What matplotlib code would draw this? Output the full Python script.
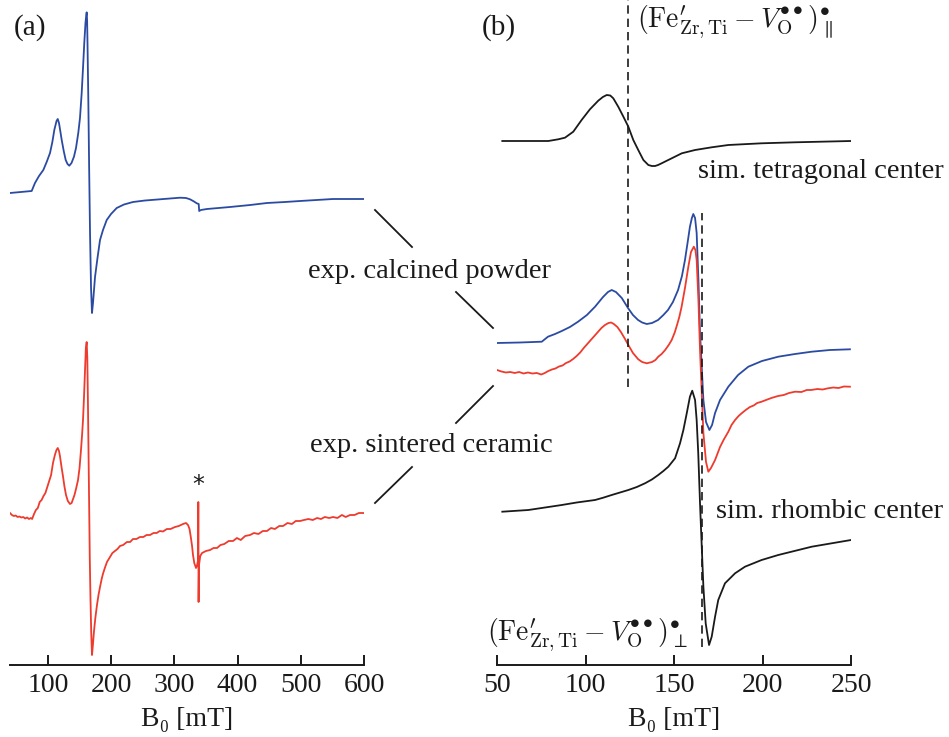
import matplotlib
matplotlib.use("Agg")
import matplotlib.pyplot as plt
from matplotlib.lines import Line2D

plt.rcParams['font.family'] = ['Liberation Serif', 'DejaVu Serif']
plt.rcParams['mathtext.fontset'] = 'cm'

BLUE = '#2b4ba3'
RED = '#ee3b2e'
BLACK = '#1a1a1a'

# (a) calcined powder, full sweep
calc_a_B = [40, 74.3, 79.5, 85.9, 92.7, 98, 103.3, 107, 110.1, 113.6,
            115.5, 117.5, 119.8, 121.8, 125, 128.1, 131, 133.8, 137.3, 141.2,
            144.4, 148, 150.7, 153.4, 155.5, 157.5, 159.4, 160.5, 161.3, 162,
            162.6, 163.9, 165.2, 166.6, 168.2, 169.7, 171.3, 174.5, 178.4, 182.4,
            187.1, 193, 199.8, 208.8, 220.3, 234.6, 253.6, 277.3, 309, 318.4,
            324.8, 331.1, 335.4, 338.5, 339.3, 342, 351.6, 370, 388, 420,
            446.5, 475, 498.8, 525, 551, 575, 600]
calc_a_I = [0, 2, 10, 17, 23, 31, 40, 51, 63, 72,
            74, 70, 61, 53, 42, 33, 29, 27.3, 30, 36.3,
            45, 60, 75, 100, 125, 150, 170, 177, 180.7, 172,
            150, 93, 25, -40, -95, -120, -110, -84, -65, -47,
            -37, -27, -21, -15, -11.5, -9, -7.5, -6.3, -4.7, -5,
            -6.3, -8.5, -10.3, -11, -18, -17, -16, -15, -14, -12,
            -10, -9, -8, -7, -6, -6, -6]
calc_a_offset = 470

# (a) sintered ceramic, full sweep (noisy trace)
sint_a_B = [40, 43, 46, 49, 52, 55, 58, 61, 64, 67,
            70, 73, 75, 78, 81, 84, 87, 90, 93, 96,
            99, 102, 105, 108, 111, 113.5, 115.5, 117.5, 119, 121.5,
            124, 126, 128.6, 131.5, 134.9, 137.5, 139.7, 142, 144.4, 147.6,
            150, 152.3, 154, 155.5, 157, 158.6, 160, 161.3, 162.3, 163.3,
            164.2, 165, 166.2, 167.3, 168.5, 169.7, 171, 172.9, 175, 177.6,
            180, 182.4, 185, 187, 190, 193.4, 198.2, 202, 206, 210,
            214, 219, 225, 230, 234.6, 240, 245.6, 251, 256, 261.5,
            267, 272, 277, 282, 288.2, 294, 301, 307, 313.7, 318.4,
            321.6, 324, 326, 328, 329.5, 331.5, 334.3, 336, 337.2, 337.6,
            337.9, 338.3, 339, 341, 343.8, 350, 356.5, 362, 367.5, 373,
            379, 386, 392.8, 399, 405, 412, 419.7, 426, 433, 440,
            446.5, 453, 459, 466, 472, 479, 486, 492, 498.8, 505,
            512, 519, 525.7, 532, 538, 545, 551, 558, 565, 571,
            578, 585, 592, 600]
sint_a_I = [0, -2, -3, -2.5, -4, -3.5, -4.5, -4, -5.5, -4.5,
            -6, -5, -6, -1, 3, 5, 11, 13, 17, 20,
            26, 32, 38, 50, 58, 63, 65, 62, 57, 46,
            36, 27, 18, 12, 9, 10, 14, 18, 24, 33,
            45, 63, 78, 93, 115, 143, 165, 171, 155, 110,
            60, 10, -45, -85, -120, -142, -133, -118, -105, -92,
            -82, -74, -66, -61, -55, -49, -44, -40, -38, -36,
            -33, -32, -29, -29, -26, -26, -24, -24, -22, -22,
            -20, -20, -18, -18.5, -16, -16, -14, -13, -11, -10,
            -12, -16, -24, -33, -42, -50, -55, -52, -48, -45,
            11, -89, -52, -43, -40, -38, -37, -35, -35, -32,
            -31, -28, -28, -25, -27, -23, -22, -20, -21, -18,
            -18, -15, -16, -13, -13, -10, -11, -8, -8, -7,
            -6, -7, -5, -6, -4, -5, -4, -5, -2, -4,
            -2, -2, 0, 0]
sint_a_offset = 150

# (b) calcined powder, zoomed
calc_b_B = [50, 63, 75.3, 78.8, 82.8, 86.6, 91.2, 95.8, 100.8, 105.4,
            109.9, 112.7, 114.8, 117.2, 120.5, 124, 126.8, 129.7, 132, 134.6,
            137.6, 141, 144, 146.6, 149.4, 152.3, 154.5, 156.2, 157.9, 159,
            160.1, 160.9, 161.9, 162.8, 163.8, 164.7, 165.7, 166.6, 168.1, 170,
            171.5, 173.2, 176, 180.7, 186.2, 192, 199.7, 208.9, 218.4, 227.8,
            238.1, 249.4]
calc_b_I = [0, 0.5, 1.3, 6.3, 9, 12, 16, 21.3, 28, 36.3,
            46, 51, 53, 51, 45, 35, 28, 23, 20.5, 19,
            20, 23, 28, 33, 41, 53, 67, 83, 103, 116.3,
            125, 129, 125, 110, 63, 10, -25, -57, -79, -87,
            -82, -70, -57, -43.7, -32, -23.7, -18, -13.7, -11, -8.7,
            -7, -6.3]
calc_b_offset = 320

# (b) sintered ceramic, zoomed
sint_b_B = [50, 52.5, 55, 57.5, 60, 62.5, 65, 67.5, 70, 72.5,
            75, 77, 79, 81, 83, 85, 87, 89, 91, 93,
            95, 97, 99, 101, 103, 105, 107, 109, 111, 113,
            114.5, 116, 118, 120, 122, 124.2, 126.8, 129.8, 132, 134.6,
            137.6, 139.5, 141.1, 143, 145, 147, 148.7, 150.5, 151.7, 153,
            154.3, 156.2, 158.1, 159.6, 161.2, 162.1, 162.8, 163.8, 164.7, 166.6,
            168.1, 169.4, 170.9, 173.2, 176, 178, 180.7, 182.5, 184.5, 186.5,
            188.2, 190.5, 192.9, 195, 197, 199.5, 202, 205, 208.8, 212,
            215, 218.4, 222, 225, 227.4, 231, 234, 237, 240, 243,
            246, 249.4]
sint_b_I = [2, 0.5, -0.5, 0, -1, 0, -1.5, -0.5, -1.5, -1,
            -2.5, -1, 1, 2.5, 3.5, 5.5, 6.5, 9, 10.5, 13,
            16, 19.5, 24, 28, 32, 36, 40, 44, 47, 49,
            49.5, 48, 45, 40, 34, 27, 19, 12.7, 10, 8.7,
            10, 12, 15.3, 18, 22, 27, 32, 40, 47, 55,
            65.3, 84, 105.3, 120, 125.3, 122, 112, 72, 22, -61,
            -90, -99.7, -96, -88, -75, -68, -59.7, -53, -48, -44,
            -41.3, -38, -35, -33.5, -31, -29.7, -28, -26, -24, -23,
            -21, -19.7, -20, -18, -18, -17, -17.5, -16.3, -15.5, -16,
            -14.5, -14.7]
sint_b_offset = 291

# (b) simulated tetragonal centre
tetr_B = [53, 79, 84.6, 88.4, 93.1, 97.8, 102.5, 107.2, 109.8, 112,
          114, 115.7, 118.5, 121.4, 124.2, 127, 129.8, 132.7, 135.5, 137.5,
          139.3, 141, 143, 148.7, 154.4, 161.9, 171.3, 180.7, 199.5, 218.4,
          250]
tetr_I = [0, 0, 1.7, 3.3, 9.3, 21, 31.7, 40.3, 44, 46,
          45.5, 42.7, 34.3, 24.3, 14.3, 1, -9, -19, -24, -25,
          -25, -24, -22.3, -17.3, -12.3, -9, -6.3, -4, -2.3, -1.3,
          0]
tetr_offset = 522

# (b) simulated rhombic centre
rhomb_B = [53, 67.7, 86.6, 95, 105.4, 110, 114.8, 119.5, 124.2, 129,
           133.6, 137.5, 141.1, 144, 146.8, 150.6, 153.4, 155.3, 157.2, 159,
           160.3, 161.9, 162.8, 163.7, 164.7, 165.6, 166.6, 167.9, 169.8, 171.3,
           173.2, 175, 178.8, 184.5, 190.1, 199.5, 208.9, 227.8, 250]
rhomb_I = [-8.7, -7, -2, 0.5, 3, 5.3, 8, 10.5, 13, 16,
           19.7, 23.5, 28, 32, 36.3, 44.7, 59.7, 73, 89.7, 106.3,
           112.3, 103, 83, 49.7, -0.3, -40.3, -83.7, -120.3, -142, -133.7,
           -113.7, -97, -80.3, -70.3, -63.7, -57, -52, -43.7, -37]
rhomb_offset = 160

# field positions of the two centres
B_parallel = 124
B_perp = 165.6

a_ticks = [100, 200, 300, 400, 500, 600]
b_ticks = [50, 100, 150, 200, 250]

W, H = 949, 737
fig = plt.figure(figsize=(W / 100, H / 100), dpi=100)
ax_a = fig.add_axes([10 / W, 1 - 665 / H, 354 / W, 665 / H])
ax_b = fig.add_axes([497 / W, 1 - 665 / H, 354 / W, 665 / H])

for ax, lim, ticks in [(ax_a, (40, 600), a_ticks), (ax_b, (50, 250), b_ticks)]:
    ax.set_xlim(*lim)
    ax.set_ylim(-2, 663)
    ax.set_xticks(ticks)
    ax.set_yticks([])
    for s in ['left', 'top', 'right']:
        ax.spines[s].set_visible(False)
    ax.spines['bottom'].set_linewidth(1.4)
    ax.spines['bottom'].set_color(BLACK)
    ax.tick_params(axis='x', direction='in', length=7, width=1.4,
                   labelsize=20, pad=6, colors=BLACK)
    ax.set_xlabel('B₀ [mT]', fontsize=20, labelpad=6, color=BLACK)
    ax.patch.set_alpha(0)

lw = 1.3
ax_a.plot(calc_a_B, [v + calc_a_offset for v in calc_a_I], color=BLUE, lw=lw)
ax_a.plot(sint_a_B, [v + sint_a_offset for v in sint_a_I], color=RED, lw=lw)
ax_a.text(338, 178, '*', ha='center', va='center', fontsize=17,
          family='DejaVu Sans', color=BLACK)
ax_a.text(46, 635, '(a)', ha='left', va='center', fontsize=21, color=BLACK)

ax_b.plot(tetr_B, [v + tetr_offset for v in tetr_I], color=BLACK, lw=lw)
ax_b.plot(calc_b_B, [v + calc_b_offset for v in calc_b_I], color=BLUE, lw=lw)
ax_b.plot(sint_b_B, [v + sint_b_offset for v in sint_b_I], color=RED, lw=lw)
ax_b.plot(rhomb_B, [v + rhomb_offset for v in rhomb_I], color=BLACK, lw=lw)

ax_b.vlines(B_parallel, 276, 663, colors=BLACK, linestyles=(0, (5, 3)), lw=1.2)
ax_b.vlines(B_perp, 16, 450, colors=BLACK, linestyles=(0, (5, 3)), lw=1.2)

label_par = r'$(\mathrm{Fe}^{\prime}_{\mathrm{Zr,Ti}} - V_{\mathrm{O}}^{\bullet\bullet})^{\bullet}_{\parallel}$'
label_perp = r'$(\mathrm{Fe}^{\prime}_{\mathrm{Zr,Ti}} - V_{\mathrm{O}}^{\bullet\bullet})^{\bullet}_{\perp}$'
ax_b.text(129, 641, label_par, ha='left', va='center', fontsize=20,
          color=BLACK, clip_on=False)
ax_b.text(44.4, 28, label_perp, ha='left', va='center', fontsize=20,
          color=BLACK, clip_on=False)
ax_b.text(163.6, 491, 'sim. tetragonal center', ha='left', va='center',
          fontsize=20.5, color=BLACK, clip_on=False)
ax_b.text(173.7, 152, 'sim. rhombic center', ha='left', va='center',
          fontsize=20.5, color=BLACK, clip_on=False)
ax_b.text(41.5, 635, '(b)', ha='left', va='center', fontsize=21,
          color=BLACK, clip_on=False)

# labels for the measured traces, linked to both panels
fig.text(308 / W, 1 - 278 / H, 'exp. calcined powder', ha='left',
         va='baseline', fontsize=20.5, color=BLACK)
fig.text(310 / W, 1 - 452 / H, 'exp. sintered ceramic', ha='left',
         va='baseline', fontsize=20.5, color=BLACK)
connectors = [((375, 210), (412, 247)), ((456, 292), (493, 328)),
              ((493, 386), (456, 423)), ((412, 467), (375, 503))]
for (x0, y0), (x1, y1) in connectors:
    fig.add_artist(Line2D([x0 / W, x1 / W], [1 - y0 / H, 1 - y1 / H],
                          transform=fig.transFigure, color=BLACK, lw=1.3))

fig.savefig('out.png', dpi=100)
